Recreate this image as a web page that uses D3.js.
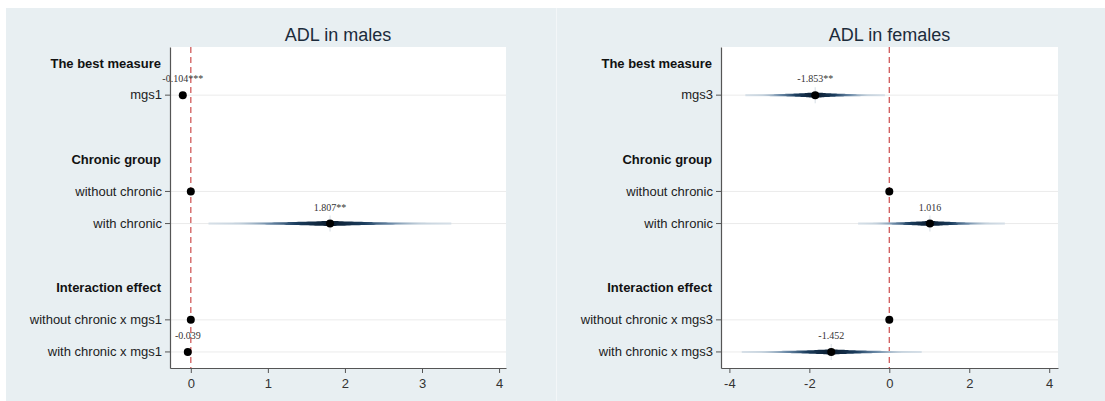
<!DOCTYPE html>
<html>
<head>
<meta charset="utf-8">
<script src="https://cdn.jsdelivr.net/npm/d3@7"></script>
<style>
  html, body { margin: 0; padding: 0; background: #ffffff; }
  svg { display: block; }
</style>
</head>
<body>
<svg id="chart" width="1105" height="401"></svg>
<script>
// Row layout shared by both panels: group headings and coefficient rows
const rowKinds = ["head", "item", "gap", "head", "item", "item", "gap", "head", "item", "item"];
const headings = ["The best measure", "Chronic group", "Interaction effect"];

// ADL in males
const maleTitle = "ADL in males";
const maleItems = ["mgs1", "without chronic", "with chronic", "without chronic x mgs1", "with chronic x mgs1"];
const maleEst = [-0.104, 0, 1.807, 0, -0.039];
const maleLow = [-0.104, 0, 0.23, 0, -0.039];
const maleHigh = [-0.104, 0, 3.38, 0, -0.039];
const maleLabels = ["-0.104***", "", "1.807**", "", "-0.039"];
const maleTicks = [0, 1, 2, 3, 4];
const maleDomain = [-0.27, 4.09];

// ADL in females
const femaleTitle = "ADL in females";
const femaleItems = ["mgs3", "without chronic", "with chronic", "without chronic x mgs3", "with chronic x mgs3"];
const femaleEst = [-1.853, 0, 1.016, 0, -1.452];
const femaleLow = [-3.60, 0, -0.78, 0, -3.69];
const femaleHigh = [-0.11, 0, 2.89, 0, 0.81];
const femaleLabels = ["-1.853**", "", "1.016", "", "-1.452"];
const femaleTicks = [-4, -2, 0, 2, 4];
const femaleDomain = [-4.21, 4.22];

const svg = d3.select("#chart");
const defs = svg.append("defs");

// panel backgrounds
svg.append("rect").attr("x", 6).attr("y", 8).attr("width", 550).attr("height", 393).attr("fill", "#e8eff2");
svg.append("rect").attr("x", 556).attr("y", 8).attr("width", 1).attr("height", 393).attr("fill", "#f3f6f8");
svg.append("rect").attr("x", 557).attr("y", 8).attr("width", 548).attr("height", 393).attr("fill", "#e8eff2");

let gradId = 0;

function drawPanel(cfg) {
  const { title, items, est, low, high, labels, ticks, domain, left, right, top, bottom } = cfg;
  const g = svg.append("g");

  const x = d3.scaleLinear().domain(domain).range([left, right]);
  const y = d3.scaleBand().domain(d3.range(rowKinds.length)).range([top, bottom]).paddingInner(0).paddingOuter(0);
  const yc = i => y(i) + y.bandwidth() / 2;

  // map rows to headings / items
  const itemRows = [];
  const headRows = [];
  rowKinds.forEach((k, i) => {
    if (k === "item") itemRows.push(i);
    if (k === "head") headRows.push(i);
  });

  // plot region
  g.append("rect").attr("x", left).attr("y", top).attr("width", right - left).attr("height", bottom - top).attr("fill", "#ffffff");

  // title
  g.append("text")
    .attr("x", (left + right) / 2).attr("y", 41)
    .attr("text-anchor", "middle")
    .attr("font-family", "Liberation Sans, Arial, sans-serif")
    .attr("font-size", 18)
    .attr("fill", "#1c2b3b")
    .text(title);

  // horizontal grid at each coefficient row
  g.selectAll("line.grid").data(itemRows).join("line")
    .attr("x1", left).attr("x2", right)
    .attr("y1", d => yc(d)).attr("y2", d => yc(d))
    .attr("stroke", "#ebebeb").attr("stroke-width", 1);

  // reference line at zero
  g.append("line")
    .attr("x1", x(0)).attr("x2", x(0)).attr("y1", top).attr("y2", bottom)
    .attr("stroke", "#d05a5a").attr("stroke-width", 1.3)
    .attr("stroke-dasharray", "6,4");

  // confidence spindles
  items.forEach((name, k) => {
    const row = itemRows[k];
    const lo = low[k], hi = high[k], e = est[k];
    if (hi - lo <= 0) return;
    const cy = yc(row);
    const x0 = x(lo), x1 = x(hi), xe = x(e);
    const id = "sp" + (gradId++);
    const grad = defs.append("linearGradient").attr("id", id)
      .attr("gradientUnits", "userSpaceOnUse")
      .attr("x1", x0).attr("x2", x1).attr("y1", 0).attr("y2", 0);
    const pe = (xe - x0) / (x1 - x0);
    const stops = [
      [0, "#c7d4df", 0.25],
      [pe * 0.25, "#a9bccc", 0.45],
      [pe * 0.50, "#4f7396", 0.8],
      [pe * 0.72, "#1b3d5e", 1],
      [pe, "#0a1b2d", 1],
      [pe + (1 - pe) * 0.28, "#1b3d5e", 1],
      [pe + (1 - pe) * 0.50, "#4f7396", 0.8],
      [pe + (1 - pe) * 0.75, "#a9bccc", 0.45],
      [1, "#c7d4df", 0.25]
    ];
    stops.forEach(s => grad.append("stop").attr("offset", s[0]).attr("stop-color", s[1]).attr("stop-opacity", s[2]));

    // faint full-width line
    g.append("line").attr("x1", x0).attr("x2", x1).attr("y1", cy).attr("y2", cy)
      .attr("stroke", "#dbe3ea").attr("stroke-width", 2);

    // tapered body: thickest at the estimate, thin at the bounds
    const samples = d3.range(0, 1.0001, 0.04);
    const pts = [];
    samples.forEach(t => pts.push([x0 + (xe - x0) * t, t]));
    samples.slice(1).forEach(t => pts.push([xe + (x1 - xe) * t, 1 - t]));
    const half = w => 0.9 + 1.8 * Math.pow(w, 3);
    const area = d3.area()
      .x(d => d[0])
      .y0(d => cy - half(d[1]))
      .y1(d => cy + half(d[1]))
      .curve(d3.curveBasis);
    g.append("path").attr("d", area(pts)).attr("fill", `url(#${id})`);

    // faint vertical spike through the estimate
    g.append("line").attr("x1", xe).attr("x2", xe).attr("y1", cy - 8).attr("y2", cy + 8)
      .attr("stroke", "#c9d3dc").attr("stroke-width", 1.2).attr("opacity", 0.6);
  });

  // point estimates
  g.selectAll("circle.est").data(items.map((n, k) => ({ row: itemRows[k], v: est[k] }))).join("circle")
    .attr("cx", d => x(d.v)).attr("cy", d => yc(d.row)).attr("r", 4)
    .attr("fill", "#000000");

  // value labels
  g.selectAll("text.val").data(items.map((n, k) => ({ row: itemRows[k], v: est[k], lab: labels[k] })).filter(d => d.lab))
    .join("text")
    .attr("x", d => x(d.v)).attr("y", d => yc(d.row) - 13)
    .attr("text-anchor", "middle")
    .attr("font-family", "Liberation Serif, Times New Roman, serif")
    .attr("font-size", 10)
    .attr("fill", "#333333")
    .text(d => d.lab);

  // y axis with coefficient names
  const yAxis = d3.axisLeft(y)
    .tickValues(itemRows)
    .tickFormat(i => items[itemRows.indexOf(i)])
    .tickSize(5).tickSizeOuter(0).tickPadding(3);
  const ya = g.append("g").attr("transform", `translate(${left},0)`).call(yAxis);
  ya.select(".domain").attr("stroke", "#555555").attr("stroke-width", 1.2);
  ya.selectAll(".tick line").attr("stroke", "#555555");
  ya.selectAll(".tick text")
    .attr("font-family", "Liberation Sans, Arial, sans-serif")
    .attr("font-size", 13).attr("fill", "#222222");

  // group headings
  g.selectAll("text.head").data(headRows).join("text")
    .attr("x", left - 9).attr("y", d => yc(d)).attr("dy", "0.35em")
    .attr("text-anchor", "end")
    .attr("font-family", "Liberation Sans, Arial, sans-serif")
    .attr("font-weight", "bold")
    .attr("font-size", 13).attr("fill", "#111111")
    .text((d, i) => headings[i]);

  // x axis (plain hyphen for negatives)
  const xAxis = d3.axisBottom(x).tickValues(ticks).tickFormat(d => String(d))
    .tickSize(5).tickSizeOuter(0).tickPadding(6);
  const xa = g.append("g").attr("transform", `translate(0,${bottom})`).call(xAxis);
  xa.select(".domain").attr("stroke", "#555555").attr("stroke-width", 1.2);
  xa.selectAll(".tick line").attr("stroke", "#555555");
  xa.selectAll(".tick text")
    .attr("font-family", "Liberation Sans, Arial, sans-serif")
    .attr("font-size", 13).attr("fill", "#333333");
}

drawPanel({
  title: maleTitle, items: maleItems, est: maleEst, low: maleLow, high: maleHigh,
  labels: maleLabels, ticks: maleTicks, domain: maleDomain,
  left: 170, right: 506, top: 47, bottom: 368
});
drawPanel({
  title: femaleTitle, items: femaleItems, est: femaleEst, low: femaleLow, high: femaleHigh,
  labels: femaleLabels, ticks: femaleTicks, domain: femaleDomain,
  left: 721, right: 1058, top: 47, bottom: 368
});
</script>
</body>
</html>
